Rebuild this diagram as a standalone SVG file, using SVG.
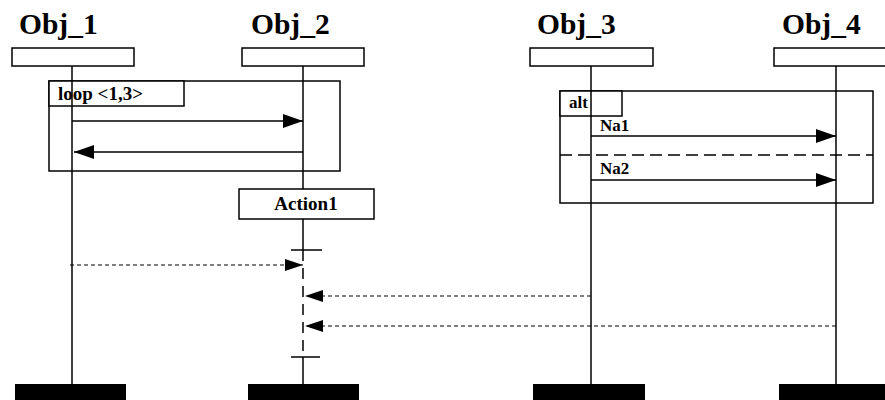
<svg xmlns="http://www.w3.org/2000/svg" width="885" height="400" viewBox="0 0 885 400">
  <defs>
    <style>
      .title { font-family: "Liberation Serif", "Times New Roman", serif; font-weight: bold; font-size: 29.5px; fill: #000; }
      .lbl { font-family: "Liberation Serif", "Times New Roman", serif; font-weight: bold; font-size: 17px; fill: #000; }
      .lbl-big { font-family: "Liberation Serif", "Times New Roman", serif; font-weight: bold; font-size: 19px; fill: #000; }
      .box { fill: #fff; stroke: #000; stroke-width: 1.5; }
      .frame { fill: none; stroke: #000; stroke-width: 1.5; }
      .life { stroke: #000; stroke-width: 1.5; fill: none; }
      .bar { fill: #000; }
      .msg { stroke: #000; stroke-width: 1.5; fill: none; }
      .reply { stroke: #000; stroke-width: 1.2; fill: none; stroke-dasharray: 4,3; }
    </style>
    <marker id="head" markerUnits="userSpaceOnUse" markerWidth="20" markerHeight="14" refX="20" refY="7" orient="auto">
      <path d="M0,0 L20,7 L0,14 Z" fill="#000"/>
    </marker>
    <marker id="headSmall" markerUnits="userSpaceOnUse" markerWidth="18" markerHeight="12" refX="18" refY="6" orient="auto">
      <path d="M0,0 L18,6 L0,12 Z" fill="#000"/>
    </marker>
  </defs>
  <rect width="885" height="400" fill="#fff"/>

  <!-- combined fragments -->
  <g id="loop-frame">
    <rect class="frame" x="49" y="81" width="291" height="90"/>
    <rect class="box" x="49" y="81" width="135" height="25"/>
    <text class="lbl-big" x="58" y="100">loop &lt;1,3&gt;</text>
  </g>
  <g id="alt-frame">
    <rect class="frame" x="560" y="91" width="313" height="112"/>
    <rect class="box" x="560" y="91" width="62" height="25"/>
    <text class="lbl" x="569" y="108">alt</text>
    <line x1="560" y1="155" x2="873" y2="155" stroke="#000" stroke-width="1.5" stroke-dasharray="12,6"/>
  </g>

  <!-- lifelines -->
  <g id="obj1">
    <text class="title" x="19" y="34">Obj_1</text>
    <line class="life" x1="72" y1="66" x2="72" y2="384"/>
    <rect class="box" x="12" y="48" width="122" height="18"/>
    <rect class="bar" x="15" y="384" width="111" height="16"/>
  </g>
  <g id="obj2">
    <text class="title" x="251" y="34">Obj_2</text>
    <line class="life" x1="303" y1="66" x2="303" y2="250"/>
    <line class="life" x1="303" y1="250" x2="303" y2="357" stroke-dasharray="11,7"/>
    <line class="life" x1="303" y1="357" x2="303" y2="384"/>
    <rect class="box" x="242" y="48" width="122" height="18"/>
    <line class="life" x1="291" y1="250" x2="322" y2="250"/>
    <line class="life" x1="291" y1="357" x2="320" y2="357"/>
    <rect class="bar" x="248" y="384" width="111" height="16"/>
  </g>
  <g id="action1">
    <rect class="box" x="239" y="189" width="135" height="30"/>
    <text class="lbl-big" x="306" y="210" text-anchor="middle">Action1</text>
  </g>
  <g id="obj3">
    <text class="title" x="537" y="34">Obj_3</text>
    <line class="life" x1="591" y1="66" x2="591" y2="384"/>
    <rect class="box" x="530" y="48" width="123" height="18"/>
    <rect class="bar" x="533" y="384" width="112" height="16"/>
  </g>
  <g id="obj4">
    <text class="title" x="782" y="34">Obj_4</text>
    <line class="life" x1="836" y1="66" x2="836" y2="384"/>
    <rect class="box" x="774" y="48" width="122" height="18"/>
    <rect class="bar" x="779" y="384" width="111" height="16"/>
  </g>

  <!-- messages -->
  <g id="connectors">
    <line class="msg" x1="72" y1="121" x2="303" y2="121" marker-end="url(#head)"/>
    <line class="msg" x1="303" y1="152" x2="74" y2="152" marker-end="url(#head)"/>
    <line class="msg" x1="591" y1="136" x2="836" y2="136" marker-end="url(#head)"/>
    <text class="lbl" x="600" y="131">Na1</text>
    <line class="msg" x1="591" y1="180" x2="836" y2="180" marker-end="url(#head)"/>
    <text class="lbl" x="600" y="174">Na2</text>
    <line class="reply" x1="70" y1="265" x2="303" y2="265" marker-end="url(#headSmall)"/>
    <line class="reply" x1="591" y1="296" x2="305" y2="296" marker-end="url(#headSmall)"/>
    <line class="reply" x1="836" y1="326" x2="305" y2="326" marker-end="url(#headSmall)"/>
  </g>
</svg>
